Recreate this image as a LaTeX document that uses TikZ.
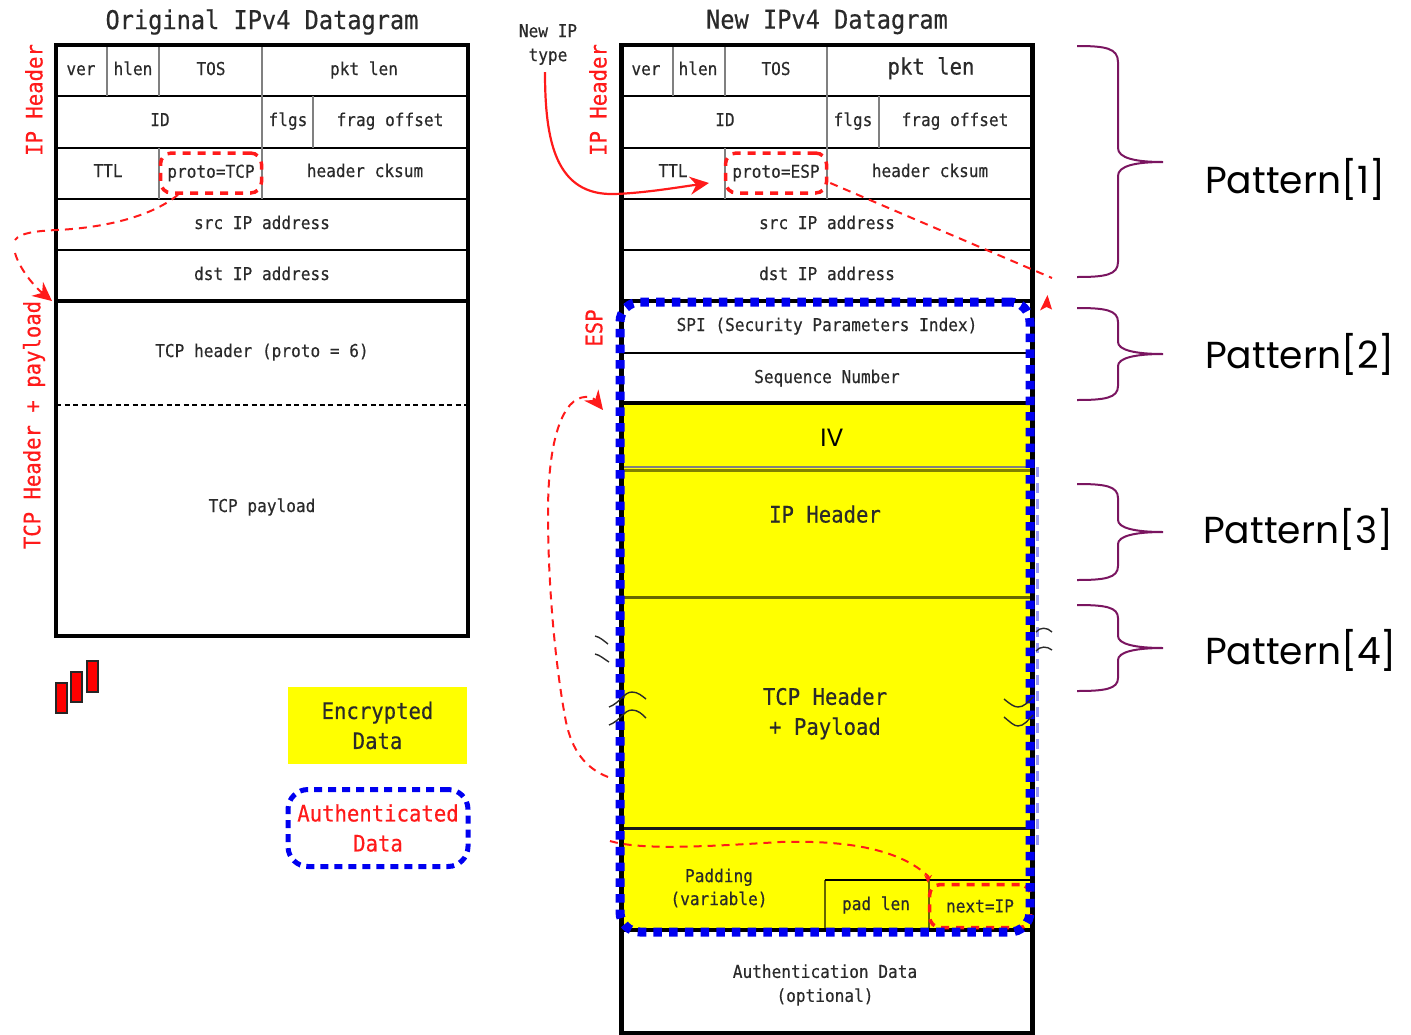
\documentclass[tikz,border=0pt]{standalone}
\usepackage{fontspec}
\usetikzlibrary{arrows.meta}
\newfontfamily\monof[Scale=1.1,FakeStretch=0.91,FakeBold=0.4]{DejaVu Sans Mono}
\newfontfamily\patf{Poppins}
\definecolor{ink}{HTML}{2A2A2A}
\definecolor{brace}{HTML}{7A1560}
\definecolor{rd}{HTML}{FF1A1A}
\definecolor{bl}{HTML}{0000F0}
\definecolor{yl}{HTML}{FFFF00}
\newcommand{\fs}[2]{\fontsize{#1}{#2}\selectfont}
\tikzset{
  x=1pt,y=-1pt,
  cell/.style={font=\monof\fs{16.1}{19},text=ink,inner sep=0pt,text height=1.2em,text depth=.2em},
  big/.style={font=\monof\fs{20.6}{24},text=ink,inner sep=0pt,text height=1.3em,text depth=.2em},
  multi/.style={font=\monof\fs{16.1}{24},text=ink,inner sep=0pt,align=center},
  multibig/.style={font=\monof\fs{20.6}{30},text=ink,inner sep=0pt,align=center},
  side/.style={font=\monof\fs{20.6}{24},text=rd,inner sep=0pt,rotate=90},
  ttl/.style={font=\monof\fs{23.6}{28},text=ink,inner sep=0pt},
  pat/.style={font=\patf\fs{37.6}{44},text=black,inner sep=0pt,anchor=west},
  frame/.style={draw=black,line width=4.5pt},
  hl/.style={draw=black,line width=2pt},
  vl/.style={draw=black!50,line width=2.8pt},
  protobox/.style={draw=rd,line width=3.5pt,rounded corners=11pt,inner sep=0pt,dash pattern=on 8pt off 7pt,
     minimum width=101pt,minimum height=40pt,font=\monof\fs{16.1}{19},text=ink},
  blueb/.style={draw=bl,line width=9pt,rounded corners=20pt,dash pattern=on 8.5pt off 7.2pt},
  reddash/.style={draw=rd,line width=2pt,dash pattern=on 8pt off 6pt},
  tip/.style={-{Stealth[length=19pt,width=18pt]}},
  squig/.style={draw=ink,line width=1.4pt},
  bracep/.style={draw=brace,line width=2pt},
  bar/.style={draw=black!85,line width=2pt,fill=red}
}
\begin{document}
\begin{tikzpicture}
\useasboundingbox (0,0) rectangle (1411,1034);
% ---------- left datagram
\node[ttl] (t1) at (262,22) {Original IPv4 Datagram};
\draw[hl] (56,96) -- (468,96) (56,148) -- (468,148) (56,199) -- (468,199) (56,250) -- (468,250);
\draw[vl] (107,44) -- (107,96) (159,44) -- (159,96) (262,44) -- (262,199) (313,96) -- (313,148) (159,148) -- (159,199);
\draw[frame] (56,301) -- (468,301);
\draw[black,line width=1.5pt,dash pattern=on 5pt off 3.5pt] (56,405) -- (468,405);
\draw[frame] (56,45) rectangle (468,636);
\node[cell] (lver) at (81,70) {ver};
\node[cell] (lhlen) at (133,70) {hlen};
\node[cell] (ltos) at (211,70) {TOS};
\node[cell] (lpkt) at (364,70) {pkt len};
\node[cell] (lid) at (160,121) {ID};
\node[cell] (lflg) at (288,121) {flgs};
\node[cell] (lfrag) at (390,121) {frag offset};
\node[cell] (lttl) at (108,172) {TTL};
\node[protobox] (ptcp) at (211,173) {proto=TCP};
\node[cell] (lck) at (365,172) {header cksum};
\node[cell] (lsrc) at (262,224) {src IP address};
\node[cell] (ldst) at (262,275) {dst IP address};
\node[cell] (ltcp) at (262,352) {TCP header (proto = 6)};
\node[cell] (lpay) at (262,507) {TCP payload};
\node[side] (s1) at (34,100) {IP Header};
\node[side] (s2) at (34,425) {TCP Header + payload};
% ---------- right datagram
\node[ttl] (t2) at (827,22) {New IPv4 Datagram};
\fill[yl] (621,403) rectangle (1032,930);
\draw[hl] (621,96) -- (1032,96) (621,148) -- (1032,148) (621,199) -- (1032,199) (621,250) -- (1032,250) (621,353) -- (1032,353);
\draw[vl] (673,44) -- (673,96) (725,44) -- (725,96) (827,44) -- (827,199) (879,96) -- (879,148) (725,148) -- (725,199);
\draw[black!50,line width=1.8pt] (621,467) -- (1032,467);
\draw[yl!50!black,line width=2.2pt] (621,470.5) -- (1032,470.5);
\draw[yl!40!black,line width=3pt] (621,597) -- (1032,597);
\draw[black!90,line width=3pt] (621,828) -- (1032,828);
\draw[yl!40!black,line width=2.5pt] (825,930) -- (825,880);
\draw[black,line width=2pt] (825,880) -- (1032,880);
\draw[yl!40!black,line width=2.5pt] (929,880) -- (929,930);
\draw[frame] (621,301) -- (1032,301) (621,403) -- (1032,403) (621,930) -- (1032,930);
\draw[frame] (621.5,45) rectangle (1032.5,1033);
\node[cell] (rver) at (646,70) {ver};
\node[cell] (rhlen) at (698,70) {hlen};
\node[cell] (rtos) at (776,70) {TOS};
\node[big] (rpkt) at (931,69) {pkt len};
\node[cell] (rid) at (725,121) {ID};
\node[cell] (rflg) at (853,121) {flgs};
\node[cell] (rfrag) at (955,121) {frag offset};
\node[cell] (rttl) at (673,172) {TTL};
\node[protobox] (pesp) at (776,173) {proto=ESP};
\node[cell] (rck) at (930,172) {header cksum};
\node[cell] (rsrc) at (827,224) {src IP address};
\node[cell] (rdst) at (827,275) {dst IP address};
\node[cell] (rspi) at (827,326) {SPI (Security Parameters Index)};
\node[cell] (rseq) at (827,378) {Sequence Number};
\node[font=\patf\fs{25}{30},text=black,inner sep=0pt] (riv) at (832,438) {IV};
\node[big] (rip) at (825,517) {IP Header};
\node[multibig] (rtcp) at (825,713.5) {TCP Header\\+ Payload};
\node[multi,font=\monof\fs{16.1}{23}] (rpad) at (719,888) {Padding\\(variable)};
\node[cell] (rpl) at (876,905) {pad len};
\node[protobox,minimum height=43pt] (pnext) at (980,906) {next=IP};
\node[multi] (rauth) at (825,985) {Authentication Data\\(optional)};
\node[side] (s3) at (598,100) {IP Header};
\node[side] (s4) at (594,328) {ESP};
\node[multi] (newip) at (548,44.5) {New IP\\type};
% pale dashed edge
\draw[bl!40,line width=2.2pt,dash pattern=on 10pt off 6pt] (1037.5,467) -- (1037.5,850);
% authenticated outline
\node[blueb,minimum width=410pt,minimum height=630pt,inner sep=0pt] (auth) at (825,617) {};
% ---------- squiggles
\draw[squig] (595,636) .. controls (600,637) and (604,641) .. (608,644);
\draw[squig] (595,654) .. controls (600,655) and (604,659) .. (609,662);
\draw[squig] (609,707) .. controls (620,703) and (624,692) .. (632,692) .. controls (638,692) and (642,696) .. (646,699);
\draw[squig] (609,725) .. controls (620,721) and (624,710) .. (632,710) .. controls (638,710) and (642,714) .. (646,718);
\draw[squig] (1036,632) .. controls (1040,627) and (1047,627) .. (1052,632);
\draw[squig] (1036,651) .. controls (1040,646) and (1047,646) .. (1052,650);
\draw[squig] (1004,699) .. controls (1010,704) and (1014,707) .. (1018,707) .. controls (1024,707) and (1028,702) .. (1033,697);
\draw[squig] (1004,717) .. controls (1010,722) and (1014,726) .. (1018,726) .. controls (1024,726) and (1028,720) .. (1033,715);
% ---------- braces
\draw[bracep] (1077,46) .. controls (1105,46) and (1118,48) .. (1118,62) -- (1118,148) .. controls (1118,158) and (1135,162) .. (1163,162) .. controls (1135,162) and (1118,166) .. (1118,176) -- (1118,262) .. controls (1118,275) and (1105,277) .. (1077,277);
\draw[bracep] (1077,308) .. controls (1105,308) and (1118,310) .. (1118,322) -- (1118,342) .. controls (1118,350) and (1135,354) .. (1163,354) .. controls (1135,354) and (1118,358) .. (1118,366) -- (1118,386) .. controls (1118,398) and (1105,400) .. (1077,400);
\draw[bracep] (1077,484) .. controls (1105,484) and (1118,486) .. (1118,498) -- (1118,520) .. controls (1118,528) and (1135,532) .. (1163,532) .. controls (1135,532) and (1118,536) .. (1118,544) -- (1118,566) .. controls (1118,578) and (1105,580) .. (1077,580);
\draw[bracep] (1077,605) .. controls (1105,605) and (1118,607) .. (1118,618) -- (1118,636) .. controls (1118,644) and (1135,648) .. (1163,648) .. controls (1135,648) and (1118,652) .. (1118,660) -- (1118,678) .. controls (1118,689) and (1105,691) .. (1077,691);
\node[pat] (p1) at (1205,179) {Pattern[1]};
\node[pat] (p2) at (1205,354) {Pattern[2]};
\node[pat] (p3) at (1203,529) {Pattern[3]};
\node[pat] (p4) at (1205,650) {Pattern[4]};
% ---------- red connectors
\coordinate (a1) at (15,240);
\coordinate (a2) at (15,253);
\coordinate (a3) at (52,301);
\draw[reddash] (ptcp.south) ++(-33,0) .. controls (150,218) and (100,228) .. (57,230) .. controls (35,231) and (20,233) .. (a1);
\draw[reddash,tip] (a2) .. controls (20,270) and (35,287) .. (a3);
\coordinate (b1) at (545,72);
\draw[rd,line width=2.2pt,tip] (b1) .. controls (545,140) and (555,196) .. (615,194) .. controls (645,193) and (680,187) .. (709,183);
\coordinate (c1) at (1052,278);
\coordinate (c3) at (1047.5,295);
\draw[reddash] (pesp.east) ++(2,10) -- (c1);
\fill[rd] (c3) -- (1040,310.5) -- (1046.5,307) -- (1052,309.5) -- cycle;
\coordinate (d1) at (608,777);
\coordinate (d2) at (603,410);
\draw[reddash,tip] (d1) .. controls (585,768) and (572,750) .. (566,722) .. controls (556,670) and (548,590) .. (548,513) .. controls (548,470) and (553,425) .. (570,405) .. controls (580,394) and (592,396) .. (d2);
\coordinate (e1) at (610,841);
\draw[reddash,-{Stealth[length=8pt,width=8pt]}] (e1) .. controls (640,850) and (700,847) .. (780,842) .. controls (850,840) and (900,850) .. (928,876) -- (pnext.north west);
% ---------- legend
\draw[bar] (56,683) rectangle (67,713);
\draw[bar] (71,672) rectangle (82,702);
\draw[bar] (87,661) rectangle (98,692);
\node[multibig,fill=yl,minimum width=179pt,minimum height=77pt] (enc) at (377.5,725.5) {Encrypted\\Data};
\node[multibig,text=rd,draw=bl,line width=5pt,rounded corners=20pt,dash pattern=on 8pt off 6pt,minimum width=180pt,minimum height=77pt] (aut) at (378,828) {Authenticated\\Data};
\end{tikzpicture}
\end{document}
